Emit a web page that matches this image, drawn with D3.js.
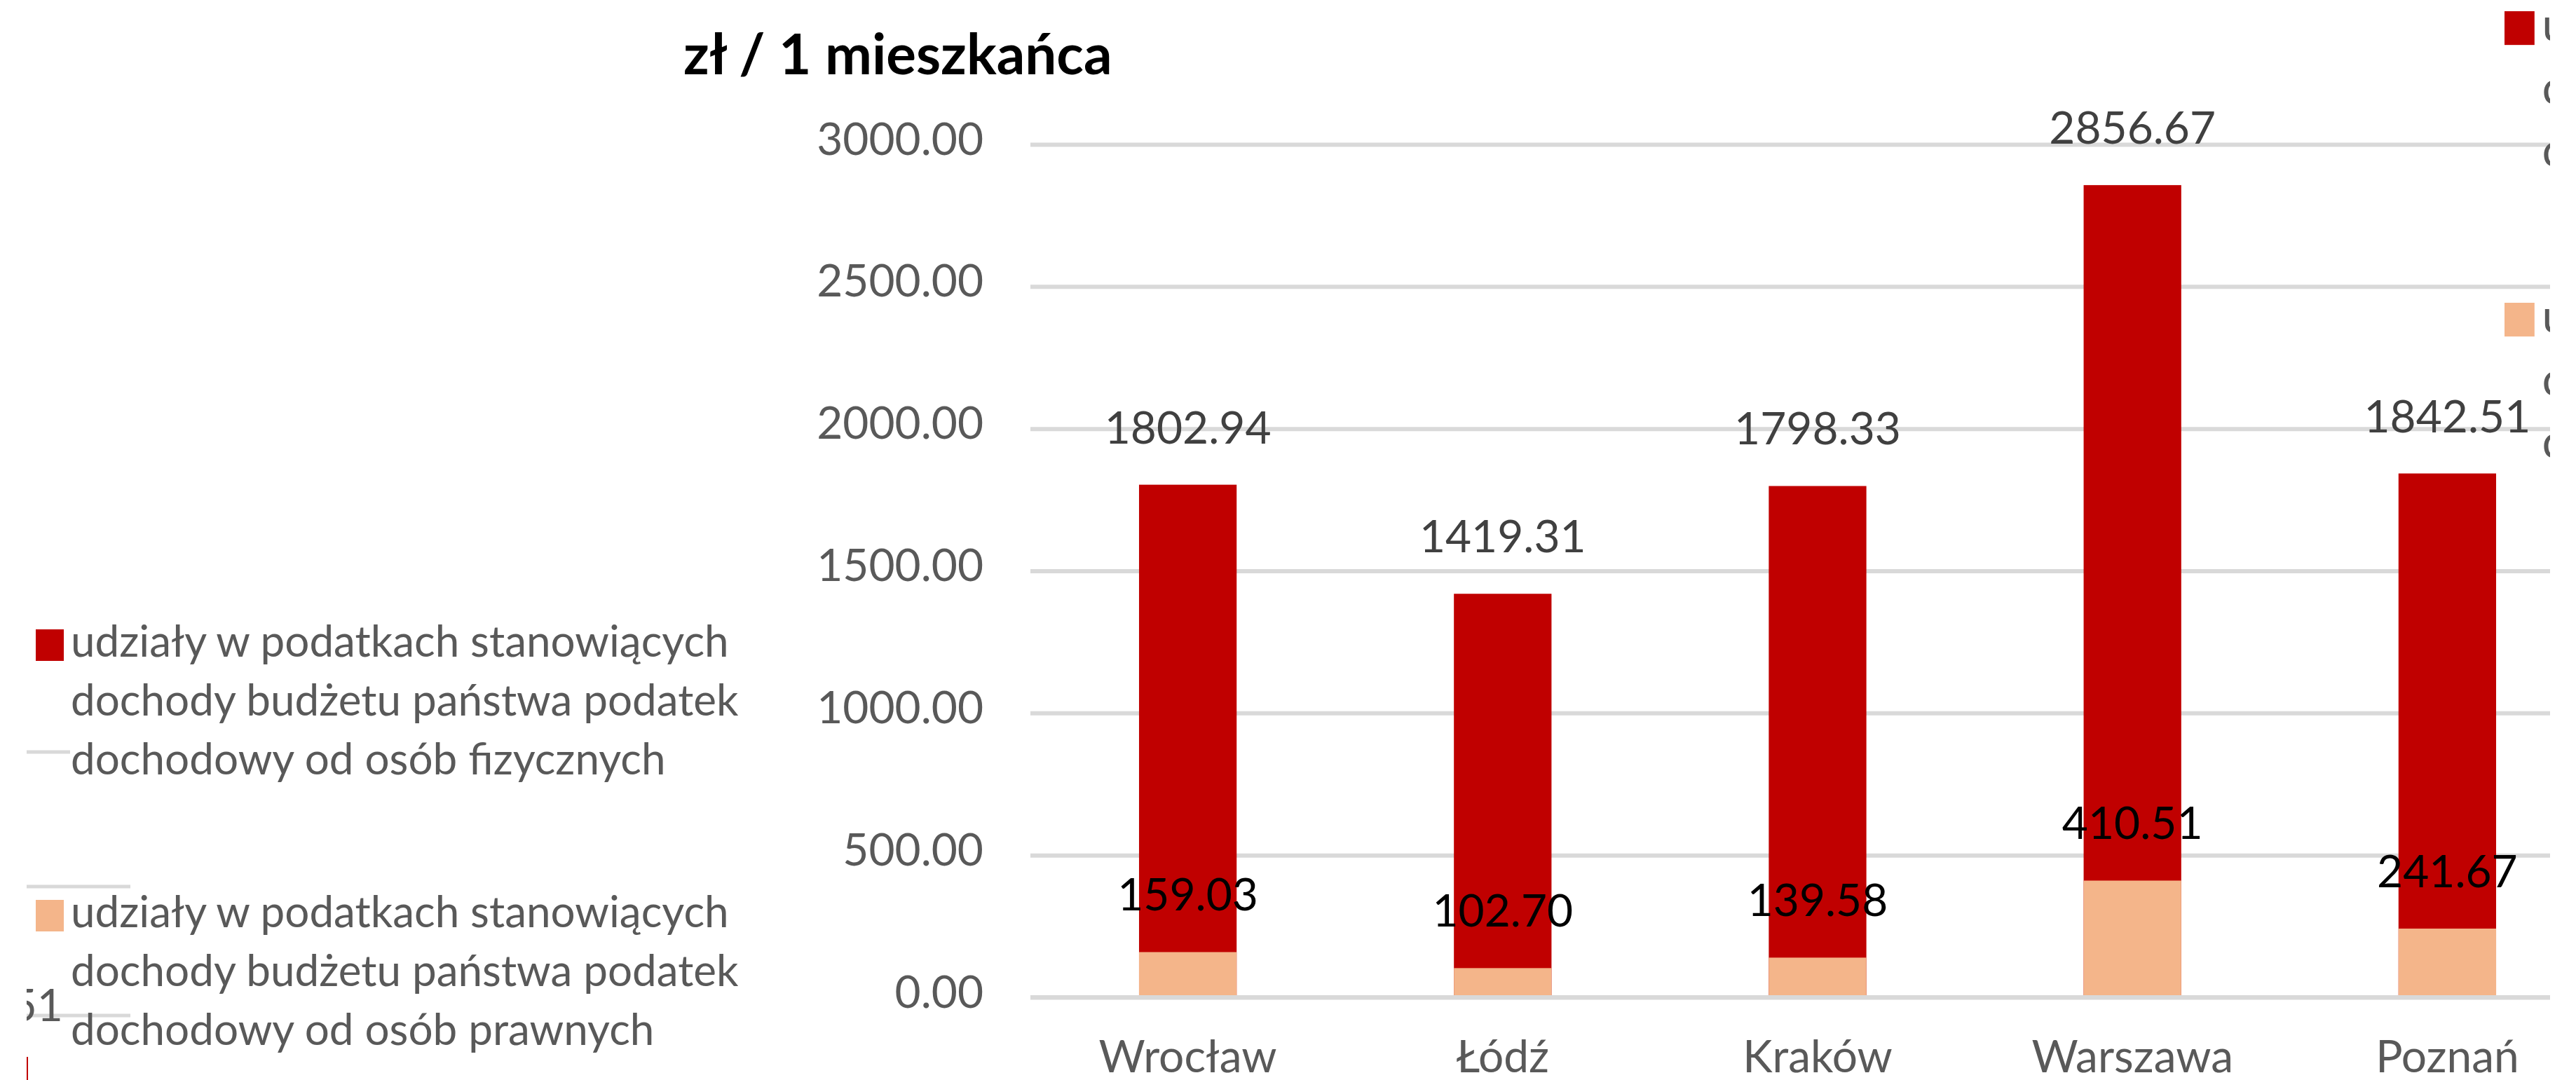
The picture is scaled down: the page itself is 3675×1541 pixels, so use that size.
<!DOCTYPE html>
<html lang="pl">
   <head>
      <meta charset="UTF-8">
      <script src="https://d3js.org/d3.v7.min.js"></script>
      <title>Udziały w podatkach</title>
      <style>
         body { margin: 0; background: #fff; }
         text { font-family: Lato, "Open Sans", sans-serif; }
      </style>
   </head>
   <body>
      <script>
         // data
         var categories = ["Wrocław", "Łódź", "Kraków", "Warszawa", "Poznań"];
         var pitValues = [1802.94, 1419.31, 1798.33, 2856.67, 1842.51];
         var citValues = [159.03, 102.70, 139.58, 410.51, 241.67];
         var yTicks = [0, 500, 1000, 1500, 2000, 2500, 3000];
         var pitLegend = ["udziały w podatkach stanowiących", "dochody budżetu państwa podatek", "dochodowy od osób fizycznych"];
         var citLegend = ["udziały w podatkach stanowiących", "dochody budżetu państwa podatek", "dochodowy od osób prawnych"];
         var title = "zł / 1 mieszkańca";

         var width = 3675;
         var height = 1541;
         var red = "#C00000";
         var orange = "#F4B58A";
         var grid = "#D9D9D9";
         var gray = "#595959";

         var plotLeft = 1470, plotRight = 3638;

         var svg = d3.select("body")
            .append("svg")
            .attr("width", width)
            .attr("height", height);

         svg.append("defs").append("clipPath")
            .attr("id", "chartClip")
            .append("rect")
            .attr("x", 0).attr("y", 0)
            .attr("width", plotRight).attr("height", height);

         var chart = svg.append("g").attr("clip-path", "url(#chartClip)");

         var x = d3.scaleBand()
            .domain(categories)
            .range([plotLeft, plotLeft + 5 * 449.2])
            .paddingInner(0.69)
            .paddingOuter(0.345);

         var y = d3.scaleLinear()
            .domain([0, 3000])
            .range([1423, 206]);

         // y axis with gridlines
         var yAxis = chart.append("g")
            .attr("transform", "translate(" + plotLeft + ",0)")
            .call(d3.axisLeft(y)
               .tickValues(yTicks)
               .tickFormat(d3.format(".2f"))
               .tickSize(-(plotRight - plotLeft))
               .tickPadding(67));
         yAxis.select(".domain").remove();
         yAxis.selectAll(".tick line").attr("stroke", grid).attr("stroke-width", 6);
         yAxis.selectAll(".tick text")
            .attr("fill", gray)
            .attr("font-size", 64)
            .attr("dy", "0.22em");

         // red bars (full height), orange drawn over them
         chart.selectAll("rect.pit")
            .data(pitValues)
            .enter()
            .append("rect")
            .attr("class", "pit")
            .attr("x", function (d, i) { return x(categories[i]); })
            .attr("width", x.bandwidth())
            .attr("y", function (d) { return y(d); })
            .attr("height", function (d) { return y(0) - y(d); })
            .attr("fill", red);

         chart.selectAll("rect.cit")
            .data(citValues)
            .enter()
            .append("rect")
            .attr("class", "cit")
            .attr("x", function (d, i) { return x(categories[i]); })
            .attr("width", x.bandwidth())
            .attr("y", function (d) { return y(d); })
            .attr("height", function (d) { return y(0) - y(d); })
            .attr("fill", orange);

         // zero line over the bars
         chart.append("line")
            .attr("x1", plotLeft).attr("x2", plotRight)
            .attr("y1", y(0)).attr("y2", y(0))
            .attr("stroke", grid).attr("stroke-width", 6);

         // data labels
         chart.selectAll("text.pitLabel")
            .data(pitValues)
            .enter()
            .append("text")
            .attr("class", "pitLabel")
            .attr("x", function (d, i) { return x(categories[i]) + x.bandwidth() / 2; })
            .attr("y", function (d) { return y(d) - 59; })
            .attr("text-anchor", "middle")
            .attr("font-size", 64)
            .attr("fill", "#404040")
            .text(function (d) { return d.toFixed(2); });

         chart.selectAll("text.citLabel")
            .data(citValues)
            .enter()
            .append("text")
            .attr("class", "citLabel")
            .attr("x", function (d, i) { return x(categories[i]) + x.bandwidth() / 2; })
            .attr("y", function (d) { return y(d) - 59; })
            .attr("text-anchor", "middle")
            .attr("font-size", 64)
            .attr("fill", "#000")
            .text(function (d) { return d.toFixed(2); });

         // category axis
         var xAxis = chart.append("g")
            .attr("transform", "translate(0," + y(0) + ")")
            .call(d3.axisBottom(x).tickSize(0).tickPadding(62));
         xAxis.select(".domain").remove();
         xAxis.selectAll(".tick text")
            .attr("fill", gray)
            .attr("font-size", 64);

         // title
         svg.append("text")
            .attr("x", 975)
            .attr("y", 106)
            .attr("font-size", 80)
            .attr("font-weight", "bold")
            .attr("fill", "#000")
            .text(title);

         // legend helper
         function legend(g, color, lines, sq, lineGap, size) {
            g.append("rect")
               .attr("x", 0).attr("y", 0)
               .attr("width", sq[0]).attr("height", sq[1])
               .attr("fill", color);
            g.selectAll("text")
               .data(lines)
               .enter()
               .append("text")
               .attr("x", sq[0] + 10)
               .attr("y", function (d, i) { return 39 + i * lineGap; })
               .attr("font-size", size)
               .attr("fill", gray)
               .text(function (d) { return d; });
         }

         // left legend, with the fragments of the chart behind it
         var left = svg.append("g");
         left.append("line").attr("x1", 38).attr("x2", 100).attr("y1", 1073).attr("y2", 1073)
            .attr("stroke", grid).attr("stroke-width", 5);
         left.append("line").attr("x1", 38).attr("x2", 186).attr("y1", 1265).attr("y2", 1265)
            .attr("stroke", grid).attr("stroke-width", 5);
         left.append("line").attr("x1", 38).attr("x2", 186).attr("y1", 1449).attr("y2", 1449)
            .attr("stroke", grid).attr("stroke-width", 5);
         left.append("line").attr("x1", 39).attr("x2", 39).attr("y1", 1508).attr("y2", height)
            .attr("stroke", red).attr("stroke-width", 2);
         svg.append("clipPath").attr("id", "fragClip")
            .append("rect").attr("x", 38).attr("y", 1380).attr("width", 60).attr("height", 100);
         left.append("text")
            .attr("clip-path", "url(#fragClip)")
            .attr("x", 90).attr("y", 1457)
            .attr("text-anchor", "end")
            .attr("font-size", 64)
            .attr("fill", gray)
            .text("51");

         legend(left.append("g").attr("transform", "translate(51,898)"), red, pitLegend, [40, 45], 84, 62);
         legend(left.append("g").attr("transform", "translate(51,1284)"), orange, citLegend, [40, 45], 84, 62);

         // right legend, cut off by the edge of the chart
         var right = chart.append("g");
         legend(right.append("g").attr("transform", "translate(3573,16) scale(1.07)"), red, pitLegend, [40, 45], 84, 62);
         legend(right.append("g").attr("transform", "translate(3573,432) scale(1.07)"), orange, citLegend, [40, 45], 84, 62);
      </script>
   </body>
</html>
